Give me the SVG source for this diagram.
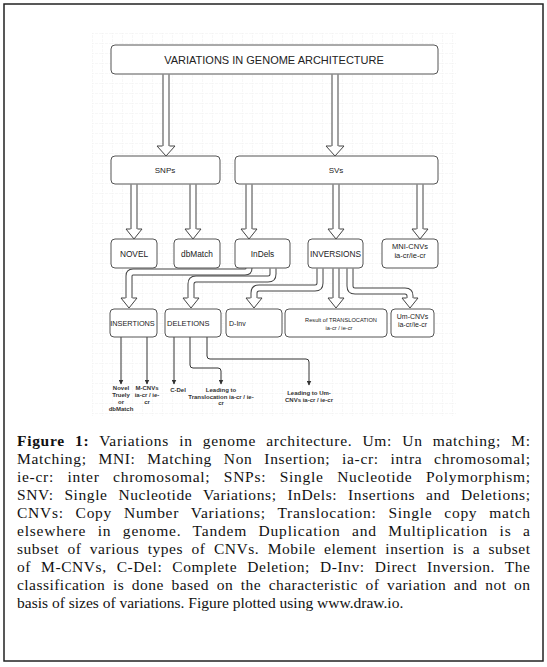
<svg xmlns="http://www.w3.org/2000/svg" width="547" height="667" viewBox="0 0 547 667">
<style>
.box{fill:#fff;stroke:#555;stroke-width:1}
.t{font-family:"Liberation Sans",Arial,sans-serif;fill:#222;text-anchor:middle}
.so{fill:none;stroke:#444;stroke-width:7;stroke-linejoin:round}
.si{fill:none;stroke:#fff;stroke-width:5;stroke-linejoin:round}
.hd{fill:#fff;stroke:#444;stroke-width:1;stroke-linejoin:miter}
.thin{fill:none;stroke:#333;stroke-width:1;marker-end:url(#ah)}
.lb{font-family:"Liberation Sans",Arial,sans-serif;font-size:6px;fill:#333;text-anchor:middle;font-weight:bold}
.cap{font-family:"Liberation Serif","Times New Roman",serif;font-size:15.5px;fill:#111}
</style>
<defs>
<pattern id="grid" width="10" height="10" patternUnits="userSpaceOnUse" x="92" y="33">
<path d="M10 0H0V10" fill="none" stroke="#e6e6e6" stroke-width="0.7" stroke-dasharray="3 1"/>
</pattern>
<marker id="ah" markerWidth="5" markerHeight="5" refX="4.5" refY="2.5" orient="auto" markerUnits="userSpaceOnUse">
<path d="M0 0L5 2.5L0 5z" fill="#333"/>
</marker>
</defs>
<rect x="0" y="0" width="547" height="667" fill="#fff"/>
<rect x="4" y="4" width="539" height="657" fill="#fff" stroke="#222" stroke-width="1.5"/>
<rect x="92" y="33" width="364" height="383" fill="url(#grid)"/>

<g id="connectors">
<path class="so" d="M166 74.5V146"/><path class="si" d="M166 74V146"/>
<path class="hd" d="M162.5 146L157 146L166 156L175 146L169.5 146"/>
<path class="so" d="M335 74.5V146"/><path class="si" d="M335 74V146"/>
<path class="hd" d="M331.5 146L326 146L335 156L344 146L338.5 146"/>

<path class="so" d="M134 184.5V229"/><path class="si" d="M134 184V229"/>
<path class="hd" d="M130.5 229L126 229L134 239L142 229L137.5 229"/>
<path class="so" d="M193 184.5V229"/><path class="si" d="M193 184V229"/>
<path class="hd" d="M189.5 229L185 229L193 239L201 229L196.5 229"/>
<path class="so" d="M249 184.5V229"/><path class="si" d="M249 184V229"/>
<path class="hd" d="M245.5 229L241 229L249 239L257 229L252.5 229"/>
<path class="so" d="M336 184.5V229"/><path class="si" d="M336 184V229"/>
<path class="hd" d="M332.5 229L328 229L336 239L344 229L339.5 229"/>
<path class="so" d="M420 184.5V229"/><path class="si" d="M420 184V229"/>
<path class="hd" d="M416.5 229L412 229L420 239L428 229L423.5 229"/>

<path class="so" d="M249 268.5V268Q249 272 245 272H133Q129 272 129 276V298"/>
<path class="si" d="M249 268V268Q249 272 245 272H133Q129 272 129 276V298"/>
<path class="hd" d="M125.5 298L121 298L129 308L137 298L132.5 298"/>

<path class="so" d="M273 268.5V274Q273 279 268 279H196Q191 279 191 284V298"/>
<path class="si" d="M273 268V274Q273 279 268 279H196Q191 279 191 284V298"/>
<path class="hd" d="M187.5 298L183 298L191 308L199 298L194.5 298"/>

<path class="so" d="M320 268.5V283Q320 288 315 288H259Q254 288 254 293V298"/>
<path class="si" d="M320 268V283Q320 288 315 288H259Q254 288 254 293V298"/>
<path class="hd" d="M250.5 298L246 298L254 308L262 298L257.5 298"/>

<path class="so" d="M336 268.5V298"/><path class="si" d="M336 268V298"/>
<path class="hd" d="M332.5 298L328 298L336 308L344 298L339.5 298"/>

<path class="so" d="M350 268.5V286Q350 291 355 291H405Q410 291 410 296V298"/>
<path class="si" d="M350 268V286Q350 291 355 291H405Q410 291 410 296V298"/>
<path class="hd" d="M406.5 298L402 298L410 308L418 298L413.5 298"/>

<path class="thin" d="M121 337V384"/>
<path class="thin" d="M147 337V384"/>
<path class="thin" d="M174 337V384"/>
<path class="thin" d="M190 337V365Q190 368 193 368H218Q221 368 221 371V384"/>
<path class="thin" d="M207 337V356Q207 359 210 359H306Q309 359 309 362V385"/>
</g>

<g id="n-top"><rect class="box" x="111" y="45" width="327" height="29" rx="4"/>
<text class="t" x="274" y="63.5" font-size="11">VARIATIONS IN GENOME ARCHITECTURE</text></g>
<g id="n-snps"><rect class="box" x="111" y="156" width="109" height="28" rx="4"/>
<text class="t" x="165" y="173" font-size="8">SNPs</text></g>
<g id="n-svs"><rect class="box" x="235" y="156" width="203" height="28" rx="4"/>
<text class="t" x="336" y="173" font-size="8">SVs</text></g>
<g id="n-novel"><rect class="box" x="111" y="239" width="46" height="29" rx="4"/>
<text class="t" x="134" y="256.5" font-size="8.3">NOVEL</text></g>
<g id="n-dbmatch"><rect class="box" x="174" y="239" width="46" height="29" rx="4"/>
<text class="t" x="197" y="256.5" font-size="8.3">dbMatch</text></g>
<g id="n-indels"><rect class="box" x="235" y="239" width="55" height="29" rx="4"/>
<text class="t" x="262.5" y="256.5" font-size="8.3">InDels</text></g>
<g id="n-inversions"><rect class="box" x="308" y="239" width="55" height="29" rx="4"/>
<text class="t" x="335.5" y="257" font-size="8.3">INVERSIONS</text></g>
<g id="n-mni"><rect class="box" x="382" y="239" width="56" height="29" rx="4"/>
<text class="t" x="410" y="249" font-size="7.5">MNI-CNVs</text>
<text class="t" x="410" y="258" font-size="7.5">ia-cr/ie-cr</text></g>
<g id="n-insertions"><rect class="box" x="110" y="309" width="47" height="28" rx="4"/>
<text class="t" x="132.5" y="325.5" font-size="7.3">INSERTIONS</text></g>
<g id="n-deletions"><rect class="box" x="165" y="309" width="56" height="28" rx="4"/>
<text class="t" x="167" y="325.5" font-size="7.5" style="text-anchor:start">DELETIONS</text></g>
<g id="n-dinv"><rect class="box" x="226" y="309" width="56" height="28" rx="4"/>
<text class="t" x="229" y="325.5" font-size="7" style="text-anchor:start">D-Inv</text></g>
<g id="n-transloc"><rect class="box" x="285" y="309" width="102" height="28" rx="4"/>
<text class="t" x="341" y="322" font-size="5.7">Result of TRANSLOCATION</text>
<text class="t" x="339" y="329.5" font-size="5.7">ia-cr / ie-cr</text></g>
<g id="n-umcnv"><rect class="box" x="391" y="309" width="43" height="28" rx="4"/>
<text class="t" x="412.5" y="318.5" font-size="7">Um-CNVs</text>
<text class="t" x="412.5" y="327" font-size="7">ia-cr/ie-cr</text></g>

<g id="labels">
<text class="lb" x="121" y="390">Novel</text>
<text class="lb" x="121" y="397">Truely</text>
<text class="lb" x="121" y="404">or</text>
<text class="lb" x="121" y="411">dbMatch</text>
<text class="lb" x="147" y="390">M-CNVs</text>
<text class="lb" x="147" y="397">ia-cr / ie-</text>
<text class="lb" x="147" y="404">cr</text>
<text class="lb" x="178" y="392">C-Del</text>
<text class="lb" x="221" y="392">Leading to</text>
<text class="lb" x="221" y="398.5">Translocation ia-cr / ie-</text>
<text class="lb" x="221" y="405">cr</text>
<text class="lb" x="309" y="395">Leading to Um-</text>
<text class="lb" x="309" y="402">CNVs ia-cr / ie-cr</text>
</g>

<g id="caption">
<text class="cap" x="17" y="446" word-spacing="5.6" textLength="513" lengthAdjust="spacing"><tspan font-weight="bold">Figure 1:</tspan> Variations in genome architecture. Um: Un matching; M:</text>
<text class="cap" x="17" y="464" word-spacing="7.3" textLength="513" lengthAdjust="spacing">Matching; MNI: Matching Non Insertion; ia-cr: intra chromosomal;</text>
<text class="cap" x="17" y="482" word-spacing="9" textLength="513" lengthAdjust="spacing">ie-cr: inter chromosomal; SNPs: Single Nucleotide Polymorphism;</text>
<text class="cap" x="17" y="500" word-spacing="6.4" textLength="513" lengthAdjust="spacing">SNV: Single Nucleotide Variations; InDels: Insertions and Deletions;</text>
<text class="cap" x="17" y="518" word-spacing="7.3" textLength="513" lengthAdjust="spacing">CNVs: Copy Number Variations; Translocation: Single copy match</text>
<text class="cap" x="17" y="536" word-spacing="6.9" textLength="513" lengthAdjust="spacing">elsewhere in genome. Tandem Duplication and Multiplication is a</text>
<text class="cap" x="17" y="554" word-spacing="4" textLength="513" lengthAdjust="spacing">subset of various types of CNVs. Mobile element insertion is a subset</text>
<text class="cap" x="17" y="572" word-spacing="5.6" textLength="513" lengthAdjust="spacing">of M-CNVs, C-Del: Complete Deletion; D-Inv: Direct Inversion. The</text>
<text class="cap" x="17" y="590" word-spacing="3.3" textLength="513" lengthAdjust="spacing">classification is done based on the characteristic of variation and not on</text>
<text class="cap" x="17" y="608">basis of sizes of variations. Figure plotted using www.draw.io.</text>
</g>
</svg>
